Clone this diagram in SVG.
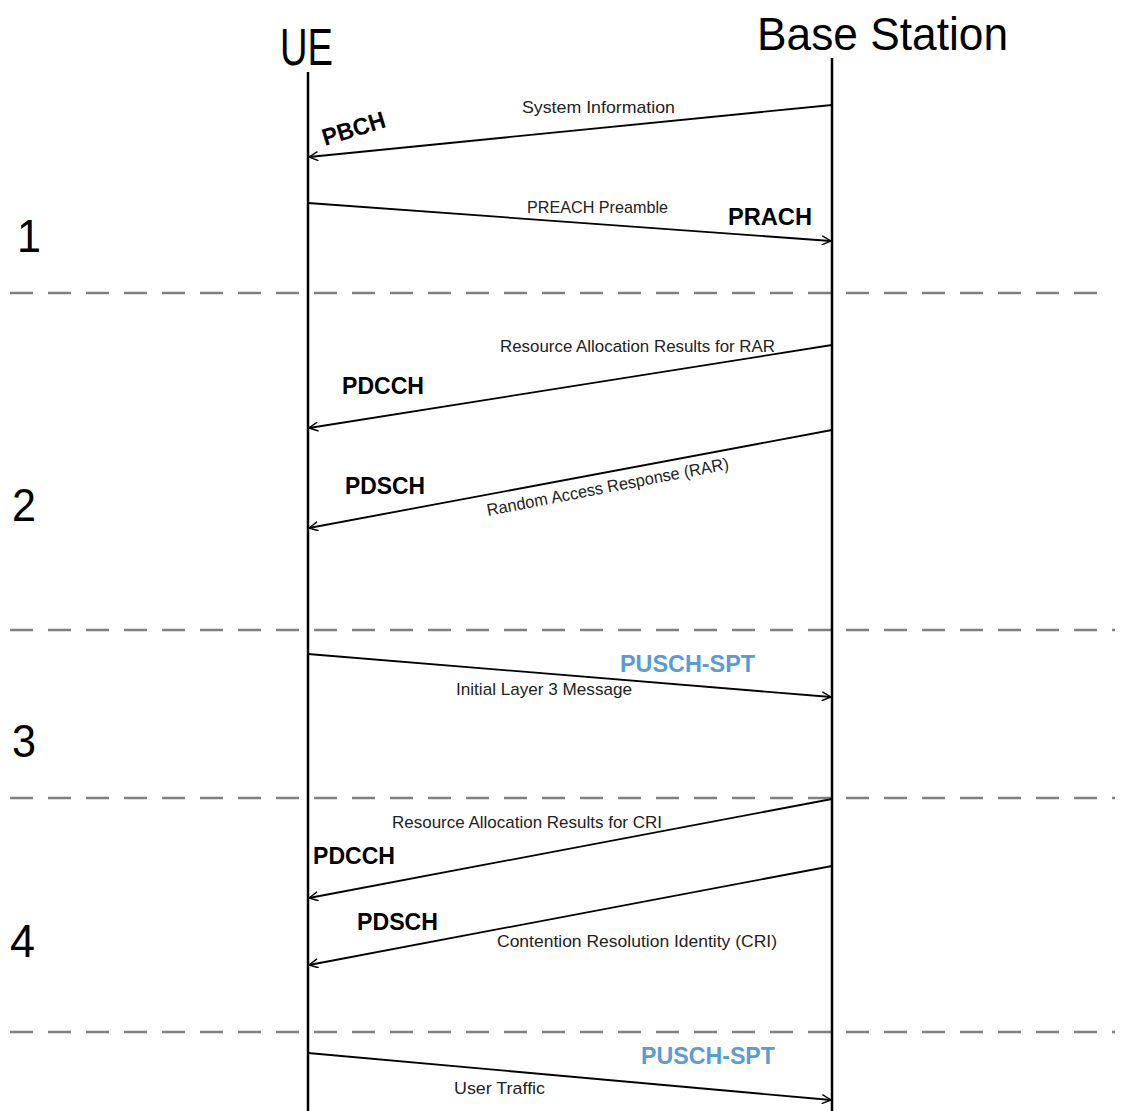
<svg xmlns="http://www.w3.org/2000/svg" width="1128" height="1111" viewBox="0 0 1128 1111">
<defs>
<style>
.hdr{font-family:"Liberation Sans",Arial,sans-serif;font-size:46px;fill:#000}
.num{font-family:"Liberation Sans",Arial,sans-serif;font-size:47px;fill:#000}
.lbl{font-family:"Liberation Sans",Arial,sans-serif;font-size:17px;fill:#222}
.ch{font-family:"Liberation Sans",Arial,sans-serif;font-size:24px;font-weight:bold;fill:#000}
.blue{fill:#5B9BD5}
.life{stroke:#000;stroke-width:2.5;fill:none}
.sep{stroke:#808080;stroke-width:2.5;stroke-dasharray:23 15;fill:none}
.msg{stroke:#000;stroke-width:1.8;fill:none;marker-end:url(#arr)}
</style>
<marker id="arr" viewBox="0 0 10 10" refX="10" refY="5" markerWidth="10" markerHeight="10" markerUnits="userSpaceOnUse" orient="auto">
<path d="M1,0.5 L10,5 L1,9.5" fill="none" stroke="#000" stroke-width="1.4"/>
</marker>
</defs>
<rect width="1128" height="1111" fill="#fff"/>

<g id="separators">
<line class="sep" x1="10" y1="293" x2="1105" y2="293"/>
<line class="sep" x1="10" y1="630" x2="1115" y2="630"/>
<line class="sep" x1="10" y1="798" x2="1115" y2="798"/>
<line class="sep" x1="10" y1="1032" x2="1115" y2="1032"/>
</g>

<g id="phase-numbers">
<text class="num" x="17" y="252" textLength="24" lengthAdjust="spacingAndGlyphs">1</text>
<text class="num" x="12" y="521" textLength="24" lengthAdjust="spacingAndGlyphs">2</text>
<text class="num" x="12" y="757" textLength="24" lengthAdjust="spacingAndGlyphs">3</text>
<text class="num" x="10" y="957" textLength="25" lengthAdjust="spacingAndGlyphs">4</text>
</g>

<g id="ue">
<text class="hdr" x="280" y="65" textLength="53" lengthAdjust="spacingAndGlyphs" style="font-size:51px">UE</text>
<line class="life" x1="308" y1="72" x2="308" y2="1111"/>
</g>

<g id="base-station">
<text class="hdr" x="757" y="50" textLength="251" lengthAdjust="spacingAndGlyphs" style="font-size:47px">Base Station</text>
<line class="life" x1="832" y1="58" x2="832" y2="1111"/>
</g>

<g id="connectors">
<line class="msg" x1="832" y1="105" x2="309" y2="157"/>
<line class="msg" x1="308" y1="203" x2="831" y2="241"/>
<line class="msg" x1="832" y1="345" x2="309" y2="428"/>
<line class="msg" x1="832" y1="430" x2="309" y2="528"/>
<line class="msg" x1="308" y1="654" x2="831" y2="697"/>
<line class="msg" x1="832" y1="799" x2="309" y2="898"/>
<line class="msg" x1="832" y1="866" x2="309" y2="965"/>
<line class="msg" x1="308" y1="1053" x2="831" y2="1100"/>
</g>

<g id="labels">
<text class="lbl" x="522" y="113" textLength="153" lengthAdjust="spacingAndGlyphs">System Information</text>
<text class="ch" transform="translate(325,146) rotate(-17)" textLength="65" lengthAdjust="spacingAndGlyphs">PBCH</text>

<text class="lbl" x="527" y="213" textLength="141" lengthAdjust="spacingAndGlyphs">PREACH Preamble</text>
<text class="ch" x="728" y="225" textLength="84" lengthAdjust="spacingAndGlyphs">PRACH</text>

<text class="lbl" x="500" y="352" textLength="275" lengthAdjust="spacingAndGlyphs">Resource Allocation Results for RAR</text>
<text class="ch" x="342" y="394" textLength="82" lengthAdjust="spacingAndGlyphs">PDCCH</text>

<text class="lbl" transform="translate(488,516) rotate(-11)" textLength="246" lengthAdjust="spacingAndGlyphs">Random Access Response (RAR)</text>
<text class="ch" x="345" y="494" textLength="80" lengthAdjust="spacingAndGlyphs">PDSCH</text>

<text class="ch blue" x="620" y="672" textLength="135" lengthAdjust="spacingAndGlyphs">PUSCH-SPT</text>
<text class="lbl" x="456" y="695" textLength="176" lengthAdjust="spacingAndGlyphs">Initial Layer 3 Message</text>

<text class="lbl" x="392" y="828" textLength="270" lengthAdjust="spacingAndGlyphs">Resource Allocation Results for CRI</text>
<text class="ch" x="313" y="864" textLength="82" lengthAdjust="spacingAndGlyphs">PDCCH</text>

<text class="ch" x="357" y="930" textLength="81" lengthAdjust="spacingAndGlyphs">PDSCH</text>
<text class="lbl" x="497" y="947" textLength="280" lengthAdjust="spacingAndGlyphs">Contention Resolution Identity (CRI)</text>

<text class="ch blue" x="641" y="1064" textLength="134" lengthAdjust="spacingAndGlyphs">PUSCH-SPT</text>
<text class="lbl" x="454" y="1094" textLength="91" lengthAdjust="spacingAndGlyphs">User Traffic</text>
</g>
</svg>
